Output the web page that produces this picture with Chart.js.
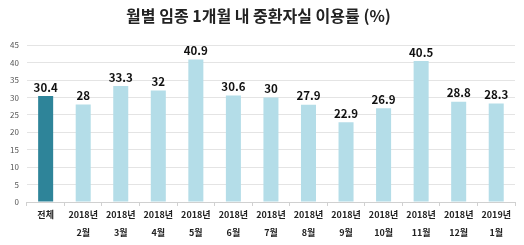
<!DOCTYPE html>
<html>
<head>
<meta charset="utf-8">
<script src="https://cdn.jsdelivr.net/npm/chart.js@4"></script>
<style>
  html, body { margin: 0; padding: 0; background: #fff; }
  #wrap { width: 524px; height: 245px; }
</style>
</head>
<body>
<div id="wrap"><canvas id="canvas_chart"></canvas></div>
<script>
const categories = [
    ['전체'], ['2018년', '2월'], ['2018년', '3월'], ['2018년', '4월'], ['2018년', '5월'],
    ['2018년', '6월'], ['2018년', '7월'], ['2018년', '8월'], ['2018년', '9월'],
    ['2018년', '10월'], ['2018년', '11월'], ['2018년', '12월'], ['2019년', '1월']
];
const usageRate = [30.4, 28, 33.3, 32, 40.9, 30.6, 30, 27.9, 22.9, 26.9, 40.5, 28.8, 28.3];
const barColors = usageRate.map((v, i) => i === 0 ? '#2e8499' : '#b4dde8');

const FONT = "'Noto Sans CJK KR', 'Noto Sans', sans-serif";

// values above each bar
const valueLabels = {
    id: 'valueLabels',
    afterDatasetsDraw(chart) {
        const c = chart.ctx;
        const meta = chart.getDatasetMeta(0);
        c.save();
        c.font = 'bold 11.5px ' + FONT;
        c.fillStyle = '#111';
        c.textAlign = 'center';
        c.textBaseline = 'bottom';
        meta.data.forEach((bar, i) => {
            c.fillText(String(usageRate[i]), bar.x, bar.y - 3);
        });
        c.restore();
    }
};

new Chart(document.getElementById('canvas_chart'), {
    type: 'bar',
    data: {
        labels: categories,
        datasets: [{
            data: usageRate,
            backgroundColor: barColors,
            categoryPercentage: 1,
            barPercentage: 0.4
        }]
    },
    options: {
        responsive: true,
        maintainAspectRatio: false,
        animation: false,
        layout: { padding: { left: 2, right: 9, top: 0, bottom: 3 } },
        plugins: {
            legend: { display: false },
            tooltip: { enabled: false },
            title: {
                display: true,
                text: '월별 임종 1개월 내 중환자실 이용률 (%)',
                color: '#222',
                font: { family: FONT, size: 16, weight: 'bold' },
                padding: { top: 6, bottom: 20 }
            }
        },
        scales: {
            x: {
                offset: true,
                grid: {
                    offset: true,
                    drawOnChartArea: false,
                    drawTicks: true,
                    tickLength: 4,
                    color: '#d0d0d0'
                },
                border: { color: '#d0d0d0' },
                ticks: {
                    color: '#222',
                    font: { family: FONT, size: 9, weight: 'bold', lineHeight: 2 },
                    maxRotation: 0,
                    autoSkip: false,
                    padding: 0
                }
            },
            y: {
                min: 0,
                max: 45,
                ticks: {
                    stepSize: 5,
                    color: '#555',
                    font: { family: FONT, size: 8 },
                    padding: 8
                },
                grid: { color: '#e4e4e4', drawTicks: false },
                border: { display: false }
            }
        }
    },
    plugins: [valueLabels]
});
</script>
</body>
</html>
